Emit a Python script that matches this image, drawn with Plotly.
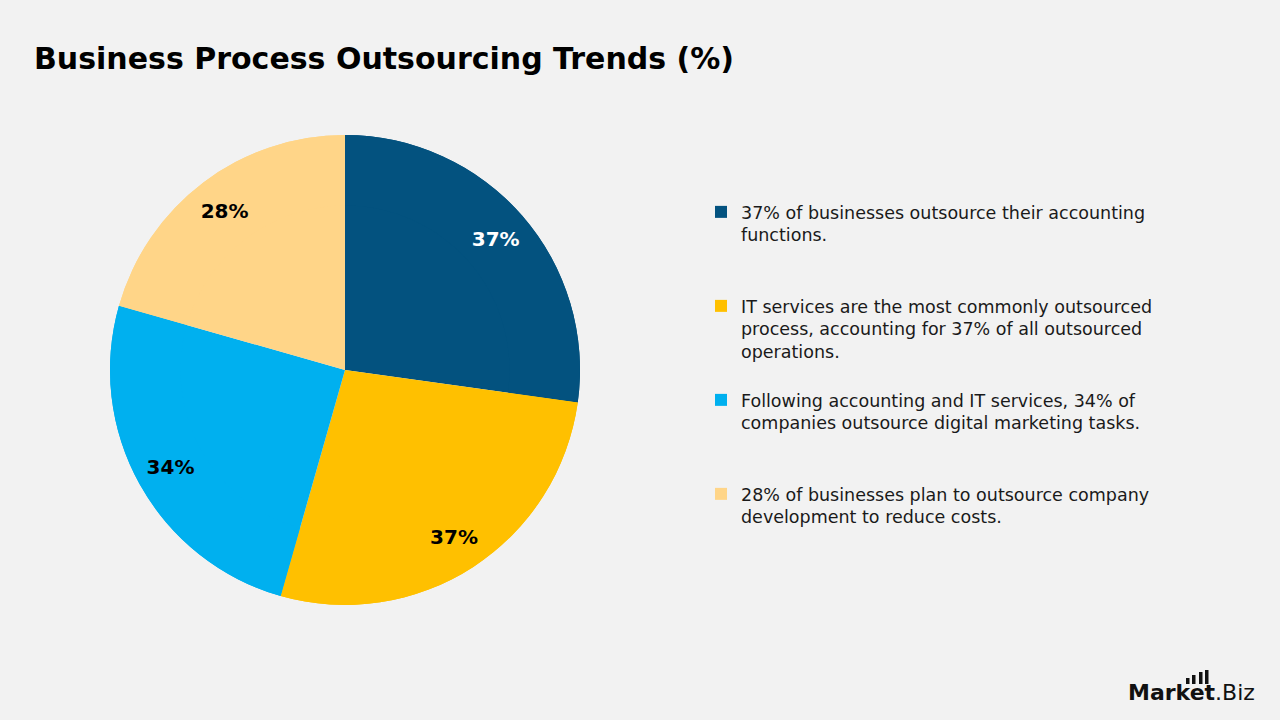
import plotly.graph_objects as go

# ---- data ----
categories = [
    "37% of businesses outsource their accounting<br>functions.<br>\u00a0<br>\u00a0",
    "IT services are the most commonly outsourced<br>process, accounting for 37% of all outsourced<br>operations.<br>\u00a0",
    "Following accounting and IT services, 34% of<br>companies outsource digital marketing tasks.<br>\u00a0<br>\u00a0",
    "28% of businesses plan to outsource company<br>development to reduce costs.",
]
values = [37, 37, 34, 28]
slice_labels = ["37%", "37%", "34%", "28%"]
colors = ["#03527F", "#FFC000", "#00B0EF", "#FFD588"]
label_colors = ["#FFFFFF", "#000000", "#000000", "#000000"]

FONT = "DejaVu Sans"
DOMAIN = dict(x=[110/1280, 580/1280], y=[1-605/720, 1-135/720])

fig = go.Figure()
# full pie (fills + legend)
fig.add_trace(go.Pie(
    labels=categories,
    values=values,
    textinfo="none",
    marker=dict(colors=colors, line=dict(width=0)),
    sort=False,
    direction="clockwise",
    rotation=0,
    hoverinfo="skip",
    domain=DOMAIN,
))
# ring on top carrying the percentage labels near the rim
fig.add_trace(go.Pie(
    labels=categories,
    values=values,
    text=slice_labels,
    textinfo="text",
    textposition="inside",
    insidetextorientation="horizontal",
    textfont=dict(family=FONT, size=20, color=label_colors, weight="bold"),
    marker=dict(colors=colors, line=dict(width=0)),
    hole=0.7,
    sort=False,
    direction="clockwise",
    rotation=0,
    hoverinfo="skip",
    showlegend=False,
    domain=DOMAIN,
))

fig.update_layout(
    width=1280, height=720,
    margin=dict(l=0, r=0, t=0, b=0),
    paper_bgcolor="#F2F2F2",
    plot_bgcolor="#F2F2F2",
    title=dict(
        text="<b>Business Process Outsourcing Trends (%)</b>",
        font=dict(family=FONT, size=30, color="#000000"),
        x=34/1280, xanchor="left", xref="paper",
        y=1-58/720, yanchor="middle", yref="container",
    ),
    legend=dict(
        x=701/1280, xanchor="left",
        y=1-194/720, yanchor="top",
        font=dict(family=FONT, size=17.5, color="#1a1a1a"),
        valign="top",
        bgcolor="rgba(0,0,0,0)",
        itemclick=False, itemdoubleclick=False,
        tracegroupgap=0,
    ),
    showlegend=True,
)

# logo
fig.add_annotation(
    text="<b>Market</b>.Biz", x=1257/1280, y=1-692/720, xref="paper", yref="paper",
    xanchor="right", yanchor="middle", showarrow=False,
    font=dict(family=FONT, size=22, color="#111111"),
)
for x0, top in [(1186, 678), (1192, 675), (1199, 672), (1205, 670)]:
    fig.add_shape(type="rect", xref="paper", yref="paper",
                  x0=x0/1280, x1=(x0+3.5)/1280, y0=1-684/720, y1=1-top/720,
                  fillcolor="#111111", line=dict(width=0))

fig.write_html("out.html")
